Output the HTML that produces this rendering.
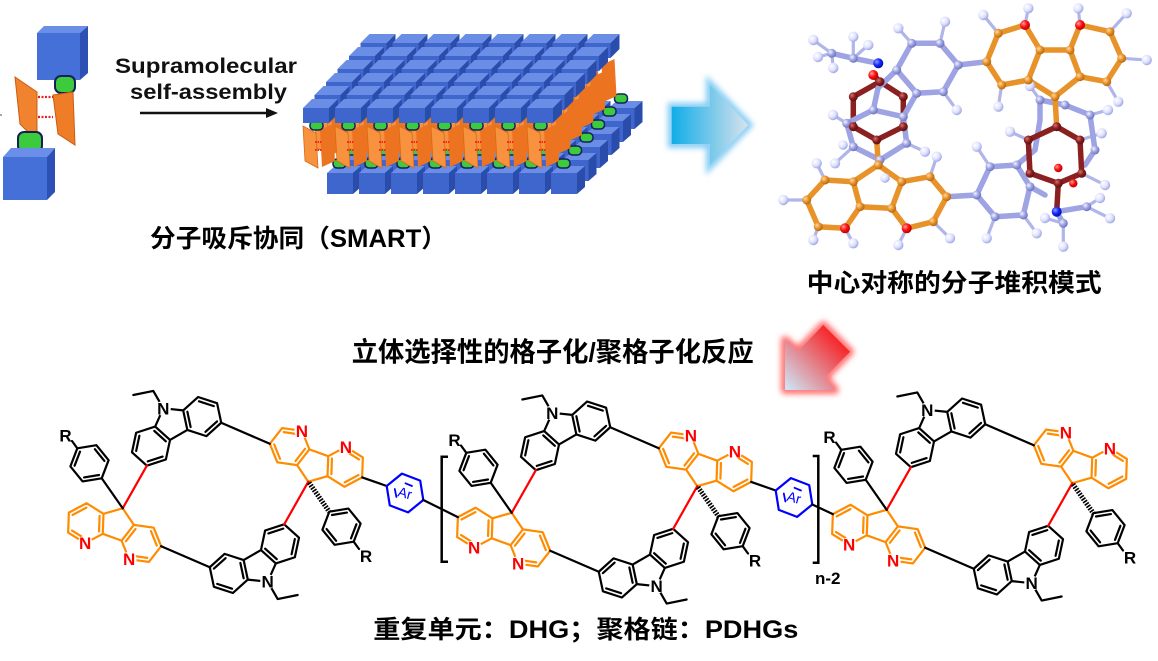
<!DOCTYPE html>
<html><head><meta charset="utf-8">
<style>html,body{margin:0;padding:0;background:#fff}svg{display:block}</style>
</head><body>
<svg width="1158" height="661" viewBox="0 0 1158 661" xmlns="http://www.w3.org/2000/svg" font-family="'Liberation Sans','Noto Sans CJK SC',sans-serif">
<defs>
  <linearGradient id="gB" x1="0" y1="0" x2="1" y2="0">
    <stop offset="0" stop-color="#10ade8"/><stop offset="1" stop-color="#d8e2ec"/>
  </linearGradient>
  <linearGradient id="gR" gradientUnits="userSpaceOnUse" x1="848" y1="330" x2="788" y2="388">
    <stop offset="0" stop-color="#ff0000"/><stop offset="1" stop-color="#cfe0f0"/>
  </linearGradient>
  <filter id="blur" x="-40%" y="-40%" width="180%" height="180%"><feGaussianBlur stdDeviation="3"/></filter>
  <radialGradient id="aO" cx="0.35" cy="0.35" r="0.7"><stop offset="0" stop-color="#ffd9a0"/><stop offset="0.5" stop-color="#e8922a"/><stop offset="1" stop-color="#b06510"/></radialGradient>
  <radialGradient id="aL" cx="0.35" cy="0.35" r="0.7"><stop offset="0" stop-color="#f4f4ff"/><stop offset="0.5" stop-color="#9ea4e4"/><stop offset="1" stop-color="#6870b8"/></radialGradient>
  <radialGradient id="aD" cx="0.35" cy="0.35" r="0.7"><stop offset="0" stop-color="#d87070"/><stop offset="0.5" stop-color="#8b2020"/><stop offset="1" stop-color="#5a0c0c"/></radialGradient>
  <radialGradient id="aRd" cx="0.35" cy="0.35" r="0.7"><stop offset="0" stop-color="#ffa0a0"/><stop offset="0.5" stop-color="#ff1010"/><stop offset="1" stop-color="#b00000"/></radialGradient>
  <radialGradient id="aH" cx="0.35" cy="0.35" r="0.7"><stop offset="0" stop-color="#ffffff"/><stop offset="0.55" stop-color="#dfe2ff"/><stop offset="1" stop-color="#9aa2e0"/></radialGradient>
  <radialGradient id="aBl" cx="0.35" cy="0.35" r="0.7"><stop offset="0" stop-color="#8fa0ff"/><stop offset="0.5" stop-color="#1428ff"/><stop offset="1" stop-color="#000ca0"/></radialGradient>

  <g id="sk" fill="none">
    <path d="M0,0 L-16.18,11.76 L-10,30.78 L10,30.78 L16.18,11.76 Z
             M-16.18,11.76 L-35.74,7.6 L-49.13,22.46 L-42.95,41.48 L-23.38,45.64 L-10,30.78
             M16.18,11.76 L35.74,7.6 L49.13,22.46 L42.95,41.48 L23.38,45.64 L10,30.78
             M-19.12,15.03 L-14.3,29.86 M-24.74,41.46 L-40,38.21 M-44.82,23.38 L-34.38,11.78
             M19.12,15.03 L14.3,29.86 M24.74,41.46 L40,38.21 M44.82,23.38 L34.38,11.78"/>
  </g>

  <g id="u" fill="none" stroke-width="2.2" stroke-linejoin="round" stroke-linecap="round">
    <use href="#sk" transform="translate(122.7,508.3) rotate(20)" stroke="#ff8c00"/>
    <use href="#sk" transform="translate(308.3,481.7) rotate(200)" stroke="#ff8c00"/>
    <use href="#sk" transform="translate(163.3,408.3) rotate(-30)" stroke="#000"/>
    <use href="#sk" transform="translate(267.7,581.7) rotate(150)" stroke="#000"/>
    <path d="M0,0 L0,-20 L-19.3,-26.5" transform="translate(163.3,408.3) rotate(-30)" stroke="#000"/>
    <path d="M0,0 L0,-20 L-19.3,-26.5" transform="translate(267.7,581.7) rotate(150)" stroke="#000"/>
    <path d="M146.85,465.7 L122.7,508.3 M284.2,524.3 L308.3,481.7" stroke="#f00"/>
    <path d="M221.2,422.7 L269.8,443.8 M161.2,546.2 L209.8,567.3" stroke="#000"/>
    <path d="M77.3,448.3 L96.4,445.2 L108.6,460.2 L101.7,478.3 L82.6,481.4 L70.4,466.4 Z M94.9,449.2 L104.4,460.9 M99,475 L84.1,477.4 M74.6,465.7 L80,451.6 M101.7,478.3 L122.7,508.3 M77.3,448.3 L72,441" stroke="#000"/>
    <path d="M353.7,541.7 L334.6,544.8 L322.4,529.8 L329.3,511.7 L348.4,508.6 L360.6,523.6 Z M336.1,540.8 L326.6,529.1 M332,515 L346.9,512.6 M356.4,524.3 L351,538.4 M353.7,541.7 L359,549" stroke="#000"/>
    <path d="M309,482.7 L329.3,511.7" stroke="#000" stroke-width="5" stroke-dasharray="1.6 1.3" stroke-linecap="butt"/>
    <g fill="#fff" stroke="none">
      <circle cx="85.1" cy="543.2" r="7.5"/><circle cx="129.1" cy="559.2" r="7.5"/>
      <circle cx="345.9" cy="446.8" r="7.5"/><circle cx="301.9" cy="430.8" r="7.5"/>
      <circle cx="163.3" cy="408.3" r="7.5"/><circle cx="267.7" cy="581.7" r="7.5"/>
    </g>
  </g>

  <g id="ar" fill="none" stroke-width="2.2" stroke-linejoin="round" stroke-linecap="round">
    <path d="M362.2,477.4 L386.7,486" stroke="#000"/>
    <path d="M423.3,500 L408.1,512.4 L389.8,505.4 L386.7,486 L401.9,473.6 L420.2,480.6 Z" stroke="#0000ff"/>
    <path d="M394.8,489 L396.4,497 M405.5,483.3 L412,486" stroke="#0000ff" stroke-width="1.8"/>
  </g>

  <g id="tc">
    <polygon points="0,0 9,-9 35,-9 26,0" fill="#6a8de6"/>
    <polygon points="26,0 35,-9 35,6 26,15" fill="#2a4caa"/>
    <rect x="0" y="0" width="26" height="15" fill="#3f66cc"/>
  </g>
  <g id="bc">
    <polygon points="0,0 8,-7 34,-7 26,0" fill="#6a8de6"/>
    <polygon points="26,0 34,-7 34,14 26,21" fill="#2a4caa"/>
    <rect x="0" y="0" width="26" height="21" fill="#3f66cc"/>
  </g>
  <g id="col">
    <use href="#bc" x="24" y="65"/>
    <rect x="30" y="51" width="13" height="9" rx="4" fill="#3ccb3c" stroke="#14205a" stroke-width="1.5"/>
    <polygon points="0,18 13,25 15,60 2,53" fill="#f7923f" stroke="#d86a18" stroke-width="0.8"/>
    <polygon points="17,22 30,16 32,53 19,59" fill="#ec7420"/>
    <path d="M12,34 L19,34 M12,42 L19,42" stroke="#ff2020" stroke-width="2" stroke-dasharray="1.5 1"/>
    <rect x="7" y="13" width="13" height="9" rx="4" fill="#3ccb3c" stroke="#14205a" stroke-width="1.5"/>
    <use href="#tc"/>
  </g>
  <g id="row">
    <use href="#col" x="0"/><use href="#col" x="32"/><use href="#col" x="64"/><use href="#col" x="96"/>
    <use href="#col" x="128"/><use href="#col" x="160"/><use href="#col" x="192"/><use href="#col" x="224"/>
  </g>
</defs>

<rect width="1158" height="661" fill="#fff"/>

<g>
  <polygon points="37,33 44,26 88,26 80,33" fill="#6b8fe8"/>
  <polygon points="80,33 88,26 88,73 80,80" fill="#2d50b4"/>
  <rect x="37" y="33" width="43" height="47" fill="#4570d8"/>
  <polygon points="15,77 37,92 37,141 20,124" fill="#f2832e" stroke="#c85d12" stroke-width="1"/>
  <rect x="55" y="76" width="20" height="17" rx="6" fill="#3ccb3c" stroke="#14205a" stroke-width="2"/>
  <polygon points="53,95 73,92 75,145 58,134" fill="#ef7d28" stroke="#c85d12" stroke-width="1"/>
  <path d="M38,97 L53,97 M38,117 L53,117" stroke="#e82020" stroke-width="2.2" stroke-dasharray="2 1.5"/>
  <rect x="18" y="132" width="24" height="20" rx="6" fill="#3ccb3c" stroke="#14205a" stroke-width="2"/>
  <polygon points="3,157 11,148 55,148 47,157" fill="#6b8fe8"/>
  <polygon points="47,157 55,148 55,192 47,200" fill="#2d50b4"/>
  <rect x="3" y="157" width="44" height="43" fill="#4570d8"/>
  <line x1="0" y1="115" x2="2" y2="115" stroke="#888" stroke-width="1.5"/>
</g>

<text x="115" y="73" font-size="21" font-weight="bold" fill="#111" textLength="182" lengthAdjust="spacingAndGlyphs">Supramolecular</text>
<text x="130" y="99" font-size="21" font-weight="bold" fill="#111" textLength="157" lengthAdjust="spacingAndGlyphs">self-assembly</text>
<line x1="140" y1="113" x2="268" y2="113" stroke="#111" stroke-width="2.6"/>
<polygon points="266,108 278,113 266,118" fill="#111"/>

<g>
  <use href="#row" transform="translate(360.5,43)"/>
  <use href="#row" transform="translate(349,56)"/>
  <use href="#row" transform="translate(337.5,69)"/>
  <use href="#row" transform="translate(326,82)"/>
  <use href="#row" transform="translate(314.5,95)"/>
  <use href="#row" transform="translate(303,108)"/>
</g>

<text x="150" y="247" font-size="25" font-weight="bold" fill="#000" textLength="297" lengthAdjust="spacingAndGlyphs">分子吸斥协同（SMART）</text>

<polygon points="671.7,106.7 710,106.7 710,85 748.3,125 710,165 710,144 671.7,144" fill="none" stroke="#86cdf4" stroke-width="8" filter="url(#blur)"/>
<polygon points="671.7,106.7 710,106.7 710,85 748.3,125 710,165 710,144 671.7,144" fill="url(#gB)"/>

<g stroke-linecap="round" stroke-linejoin="round" fill="none">
  <path stroke="#b0b5ea" stroke-width="3.2" d="
    M998.3,33.3 L983.3,15 M1025,25 L1028.3,8.3 M1080,25 L1078.3,8.3 M1110,31.7 L1126.7,13.3 M1121.7,58.3 L1146.7,60
    M1106.7,81.7 L1118.3,101.7 M1001.7,85 L998.3,106.7 M940,43.3 L945,21.7 M911.7,43.3 L898.3,28.3 M943.3,91.7 L956.7,110
    M831.7,53.3 L813.3,40 M831.7,53.3 L818,57 M831.7,53.3 L833.3,68 M853.3,58.3 L853.3,36.7 M853.3,58.3 L868.3,45
    M846.7,123.3 L833,115 M853.3,146.7 L835,163.3 M906.7,143.3 L925,151.7 M806.7,200 L783.3,200 M818.3,226.7 L813.3,240
    M845,228.3 L853.3,243.3 M906.7,228.3 L898.3,245 M933.3,221.7 L950,238.3 M825,180 L816.7,163.3 M930,176.7 L936.7,156.7
    M990,166.7 L976.7,146.7 M995,216.7 L986.7,238.3 M1023.3,215 L1036.7,233.3 M1063.3,223.3 L1063.3,246.7 M1063.3,223.3 L1045,218
    M1086.7,206.7 L1110,218.3 M1086.7,206.7 L1100,198 M1081.7,173.3 L1105,185 M1080,140 L1101.7,133.3 M1028.3,140 L1010,131.7
    M1040,100 L1030,86 M1090,115 L1108,110"/>
  <path stroke="#9da3e3" stroke-width="5.5" d="
    M958.3,65 L940,43.3 L911.7,43.3 L896.7,70 L916.7,93.3 L943.3,91.7 Z M958.3,65 L986.7,61.7
    M1016.7,165 L1035,150 L1040,120 L1040,100 L1065,105 L1090,115 L1095,150 L1085,165
    M878.3,63.3 L853.3,58.3 L831.7,53.3"/>
  <path stroke="#8b2020" stroke-width="5.5" d="M853.3,96.7 L880,81.7 L903.3,96.7 L903.3,126.7 L876.7,140 L853.3,126.7 Z M880,81.7 L873.3,75"/>
  <path stroke="#9da3e3" stroke-width="5.5" d="M846.7,123.3 L873.3,110 L903.3,116.7 L906.7,143.3 L880,160 L853.3,146.7 Z M903.3,116.7 L916.7,93.3 M896.7,70 L878,88 L873.3,110"/>
  <path stroke="#9da3e3" stroke-width="5.5" d="M976.7,195 L990,166.7 L1016.7,165 L1030,186.7 L1023.3,215 L995,216.7 Z M946.7,196.7 L976.7,195 M1030,186.7 L1045,195"/>
  <path stroke="#8b2020" stroke-width="5.5" d="M1056.7,126.7 L1080,140 L1081.7,173.3 L1058.3,183.3 L1030,173.3 L1028.3,140 Z M1058.3,183.3 L1056.7,211.7"/>
  <path stroke="#9da3e3" stroke-width="5.5" d="M1056.7,211.7 L1063.3,223.3 M1056.7,211.7 L1086.7,206.7"/>
  <path stroke="#e8922a" stroke-width="5.5" d="
    M998.3,33.3 L1025,25 L1040,50 L1028.3,80 L1001.7,85 L986.7,61.7 Z
    M1070,50 L1080,25 L1110,31.7 L1121.7,58.3 L1106.7,81.7 L1080,76.7 Z
    M1040,50 L1070,50 M1028.3,80 L1055,96.7 L1080,76.7 M1055,96.7 L1056.7,126.7
    M806.7,200 L818.3,226.7 L845,228.3 L860,206.7 L853.3,181.7 L825,180 Z
    M891.7,208.3 L906.7,228.3 L933.3,221.7 L946.7,196.7 L930,176.7 L901.7,181.7 Z
    M860,206.7 L891.7,208.3 M853.3,181.7 L878.3,165 L901.7,181.7 M878.3,165 L876.7,140"/>
  <g stroke="none">
    <g fill="url(#aH)">
      <circle cx="983.3" cy="15" r="5.2"/><circle cx="1028.3" cy="8.3" r="5.2"/><circle cx="1078.3" cy="8.3" r="5.2"/>
      <circle cx="1126.7" cy="13.3" r="5.2"/><circle cx="1146.7" cy="60" r="5.2"/><circle cx="1118.3" cy="101.7" r="5.2"/>
      <circle cx="998.3" cy="106.7" r="5.2"/><circle cx="945" cy="21.7" r="5.2"/><circle cx="898.3" cy="28.3" r="5.2"/>
      <circle cx="956.7" cy="110" r="5.2"/><circle cx="813.3" cy="40" r="5.2"/><circle cx="818" cy="57" r="5.2"/>
      <circle cx="833.3" cy="68" r="5.2"/><circle cx="853.3" cy="36.7" r="5.2"/><circle cx="868.3" cy="45" r="5.2"/>
      <circle cx="833" cy="115" r="5.2"/><circle cx="835" cy="163.3" r="5.2"/><circle cx="925" cy="151.7" r="5.2"/>
      <circle cx="783.3" cy="200" r="5.2"/><circle cx="813.3" cy="240" r="5.2"/><circle cx="853.3" cy="243.3" r="5.2"/>
      <circle cx="898.3" cy="245" r="5.2"/><circle cx="950" cy="238.3" r="5.2"/><circle cx="816.7" cy="163.3" r="5.2"/>
      <circle cx="936.7" cy="156.7" r="5.2"/><circle cx="976.7" cy="146.7" r="5.2"/><circle cx="986.7" cy="238.3" r="5.2"/>
      <circle cx="1036.7" cy="233.3" r="5.2"/><circle cx="1063.3" cy="246.7" r="5.2"/><circle cx="1045" cy="218" r="5.2"/>
      <circle cx="1110" cy="218.3" r="5.2"/><circle cx="1100" cy="198" r="5.2"/><circle cx="1105" cy="185" r="5.2"/>
      <circle cx="1101.7" cy="133.3" r="5.2"/><circle cx="1010" cy="131.7" r="5.2"/><circle cx="1030" cy="86" r="5.2"/>
      <circle cx="1108" cy="110" r="5.2"/><circle cx="885" cy="178" r="4.8"/><circle cx="843" cy="145" r="4.8"/>
    </g>
    <g fill="url(#aL)">
      <circle cx="958.3" cy="65" r="4.5"/><circle cx="940" cy="43.3" r="4.5"/><circle cx="911.7" cy="43.3" r="4.5"/>
      <circle cx="896.7" cy="70" r="4.5"/><circle cx="916.7" cy="93.3" r="4.5"/><circle cx="943.3" cy="91.7" r="4.5"/>
      <circle cx="846.7" cy="123.3" r="4.5"/><circle cx="873.3" cy="110" r="4.5"/><circle cx="903.3" cy="116.7" r="4.5"/>
      <circle cx="906.7" cy="143.3" r="4.5"/><circle cx="880" cy="160" r="4.5"/><circle cx="853.3" cy="146.7" r="4.5"/>
      <circle cx="976.7" cy="195" r="4.5"/><circle cx="990" cy="166.7" r="4.5"/><circle cx="1016.7" cy="165" r="4.5"/>
      <circle cx="1030" cy="186.7" r="4.5"/><circle cx="1023.3" cy="215" r="4.5"/><circle cx="995" cy="216.7" r="4.5"/>
      <circle cx="853.3" cy="58.3" r="4.5"/><circle cx="831.7" cy="53.3" r="4.5"/><circle cx="1063.3" cy="223.3" r="4.5"/>
      <circle cx="1086.7" cy="206.7" r="4.5"/><circle cx="1040" cy="100" r="4.5"/><circle cx="1065" cy="105" r="4.5"/>
      <circle cx="1090" cy="115" r="4.5"/><circle cx="1095" cy="150" r="4.5"/>
    </g>
    <g fill="url(#aD)">
      <circle cx="853.3" cy="96.7" r="4.5"/><circle cx="880" cy="81.7" r="4.5"/><circle cx="903.3" cy="96.7" r="4.5"/>
      <circle cx="903.3" cy="126.7" r="4.5"/><circle cx="876.7" cy="140" r="4.5"/><circle cx="853.3" cy="126.7" r="4.5"/>
      <circle cx="1056.7" cy="126.7" r="4.5"/><circle cx="1080" cy="140" r="4.5"/><circle cx="1081.7" cy="173.3" r="4.5"/>
      <circle cx="1058.3" cy="183.3" r="4.5"/><circle cx="1030" cy="173.3" r="4.5"/><circle cx="1028.3" cy="140" r="4.5"/>
    </g>
    <g fill="url(#aO)">
      <circle cx="998.3" cy="33.3" r="4.5"/><circle cx="1040" cy="50" r="4.5"/><circle cx="1028.3" cy="80" r="4.5"/>
      <circle cx="1001.7" cy="85" r="4.5"/><circle cx="986.7" cy="61.7" r="4.5"/><circle cx="1070" cy="50" r="4.5"/>
      <circle cx="1110" cy="31.7" r="4.5"/><circle cx="1121.7" cy="58.3" r="4.5"/><circle cx="1106.7" cy="81.7" r="4.5"/>
      <circle cx="1080" cy="76.7" r="4.5"/><circle cx="1055" cy="96.7" r="4.5"/>
      <circle cx="806.7" cy="200" r="4.5"/><circle cx="818.3" cy="226.7" r="4.5"/><circle cx="860" cy="206.7" r="4.5"/>
      <circle cx="853.3" cy="181.7" r="4.5"/><circle cx="825" cy="180" r="4.5"/><circle cx="891.7" cy="208.3" r="4.5"/>
      <circle cx="933.3" cy="221.7" r="4.5"/><circle cx="946.7" cy="196.7" r="4.5"/><circle cx="930" cy="176.7" r="4.5"/>
      <circle cx="901.7" cy="181.7" r="4.5"/><circle cx="878.3" cy="165" r="4.5"/>
    </g>
    <g fill="url(#aRd)">
      <circle cx="1025" cy="25" r="5"/><circle cx="1080" cy="25" r="5"/><circle cx="845" cy="228.3" r="5"/>
      <circle cx="906.7" cy="228.3" r="5"/><circle cx="873.3" cy="75" r="5"/><circle cx="1058.3" cy="168" r="4.2"/>
      <circle cx="1073.3" cy="183.3" r="4.2"/>
    </g>
    <g fill="url(#aBl)">
      <circle cx="878.3" cy="63.3" r="5"/><circle cx="1056.7" cy="211.7" r="5"/>
    </g>
  </g>
</g>

<text x="806.7" y="291.5" font-size="25" font-weight="bold" fill="#000" textLength="295" lengthAdjust="spacingAndGlyphs">中心对称的分子堆积模式</text>

<text x="351.7" y="361.5" font-size="27" font-weight="bold" fill="#000" textLength="402" lengthAdjust="spacingAndGlyphs">立体选择性的格子化/聚格子化反应</text>
<polygon points="785,340 798.3,351 823.3,325 850,351.7 825,377.3 835,390 785,390" fill="none" stroke="#ff7070" stroke-width="8" stroke-linejoin="round" filter="url(#blur)"/>
<polygon points="785,340 798.3,351 823.3,325 850,351.7 825,377.3 835,390 785,390" fill="url(#gR)"/>

<use href="#u"/>
<use href="#u" transform="translate(389,4.5)"/>
<use href="#u" transform="translate(764,1.5)"/>
<use href="#ar"/>
<use href="#ar" transform="translate(389,4.5)"/>
<path d="M423.3,500 L457.85,517.1 M812.3,504.5 L832.85,514.1" stroke="#000" stroke-width="2.2" stroke-linecap="round" fill="none"/>
<path d="M448,456.7 L441.7,456.7 L441.7,561.7 L448,561.7 M812.7,456 L818.3,456 L818.3,562.7 L812.7,562.7" stroke="#000" stroke-width="2.5" fill="none"/>
<text x="815" y="584" font-size="17" font-weight="bold" fill="#000">n-2</text>

<g font-size="14" fill="#0000ff" text-anchor="middle">
  <text transform="translate(405,493) rotate(15)" y="5">Ar</text>
  <text transform="translate(794,497.5) rotate(15)" y="5">Ar</text>
</g>

<g font-size="17" font-weight="bold" fill="#ff0000" text-anchor="middle">
  <text x="85.1" y="549.2">N</text><text x="129.1" y="565.2">N</text><text x="345.9" y="452.8">N</text><text x="301.9" y="436.8">N</text>
  <text x="474.1" y="553.7">N</text><text x="518.1" y="569.7">N</text><text x="734.9" y="457.3">N</text><text x="690.9" y="441.3">N</text>
  <text x="849.1" y="550.7">N</text><text x="893.1" y="566.7">N</text><text x="1109.9" y="454.3">N</text><text x="1065.9" y="438.3">N</text>
</g>
<g font-size="17" font-weight="bold" fill="#000" text-anchor="middle">
  <text x="163.3" y="414.3">N</text><text x="267.7" y="587.7">N</text>
  <text x="552.3" y="418.8">N</text><text x="656.7" y="592.2">N</text>
  <text x="927.3" y="415.8">N</text><text x="1031.7" y="589.2">N</text>
  <text x="65.5" y="441.5">R</text><text x="366" y="562">R</text>
  <text x="454.5" y="446">R</text><text x="755" y="566.5">R</text>
  <text x="829.5" y="443">R</text><text x="1130" y="563.5">R</text>
</g>

<text x="373.3" y="638" font-size="25" font-weight="bold" fill="#000" textLength="425" lengthAdjust="spacingAndGlyphs">重复单元：DHG；聚格链：PDHGs</text>
</svg>
</body></html>
